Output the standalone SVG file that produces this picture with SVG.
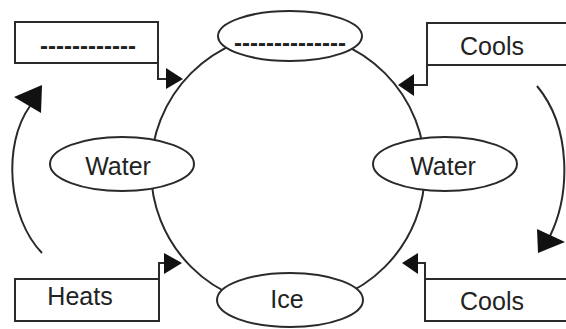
<svg xmlns="http://www.w3.org/2000/svg" width="566" height="329" viewBox="0 0 566 329">
<style>
.s{fill:none;stroke:#2a2a2a;stroke-width:2}
.n{fill:#fff;stroke:#2a2a2a;stroke-width:2}
.t{font-family:"Liberation Sans",Arial,sans-serif;font-size:25px;fill:#222;text-anchor:middle}
.d{font-family:"Liberation Sans",Arial,sans-serif;font-size:24px;font-weight:bold;fill:#222;text-anchor:middle}
.h{fill:#111;stroke:none}
</style>
<rect width="566" height="329" fill="#fff"/>
<g id="cycle"><circle class="s" cx="288" cy="170" r="137"/></g>
<g id="connectors">
<path class="s" d="M158,63 V79 H170"/>
<polygon class="h" points="166,68 183,79 166,89"/>
<path class="s" d="M427,65 V85 H410"/>
<polygon class="h" points="414,74 398,85 414,96"/>
<path class="s" d="M159,279 V263 H170"/>
<polygon class="h" points="164,253 182,263 164,274"/>
<path class="s" d="M425,279 V263 H412"/>
<polygon class="h" points="418,253 402,263 418,274"/>
<path class="s" d="M42,253 C8,218 2,145 30,106"/>
<polygon class="h" points="14,97 42,85 41,113"/>
<path class="s" d="M537,86 C572,128 570,195 550,236"/>
<polygon class="h" points="537,229 565,242 538,253"/>
</g>
<g id="top"><ellipse class="n" cx="290" cy="36" rx="72" ry="25"/><text class="d" x="290" y="51">--------------</text></g>
<g id="ice"><ellipse class="n" cx="290" cy="300" rx="73" ry="27"/><text class="t" x="287" y="308">Ice</text></g>
<g id="waterL"><ellipse class="n" cx="122" cy="164" rx="72" ry="27"/><text class="t" x="118" y="175">Water</text></g>
<g id="waterR"><ellipse class="n" cx="445" cy="164" rx="72" ry="27"/><text class="t" x="443" y="175">Water</text></g>
<g id="boxTL"><rect class="n" x="15" y="22" width="143" height="41"/><text class="d" x="88" y="54">------------</text></g>
<g id="boxTR"><rect class="n" x="427" y="23" width="145" height="42"/><text class="t" x="492" y="55">Cools</text></g>
<g id="boxBL"><rect class="n" x="15" y="279" width="144" height="42"/><text class="t" x="80" y="305">Heats</text></g>
<g id="boxBR"><rect class="n" x="425" y="279" width="147" height="42"/><text class="t" x="492" y="310">Cools</text></g>
</svg>
